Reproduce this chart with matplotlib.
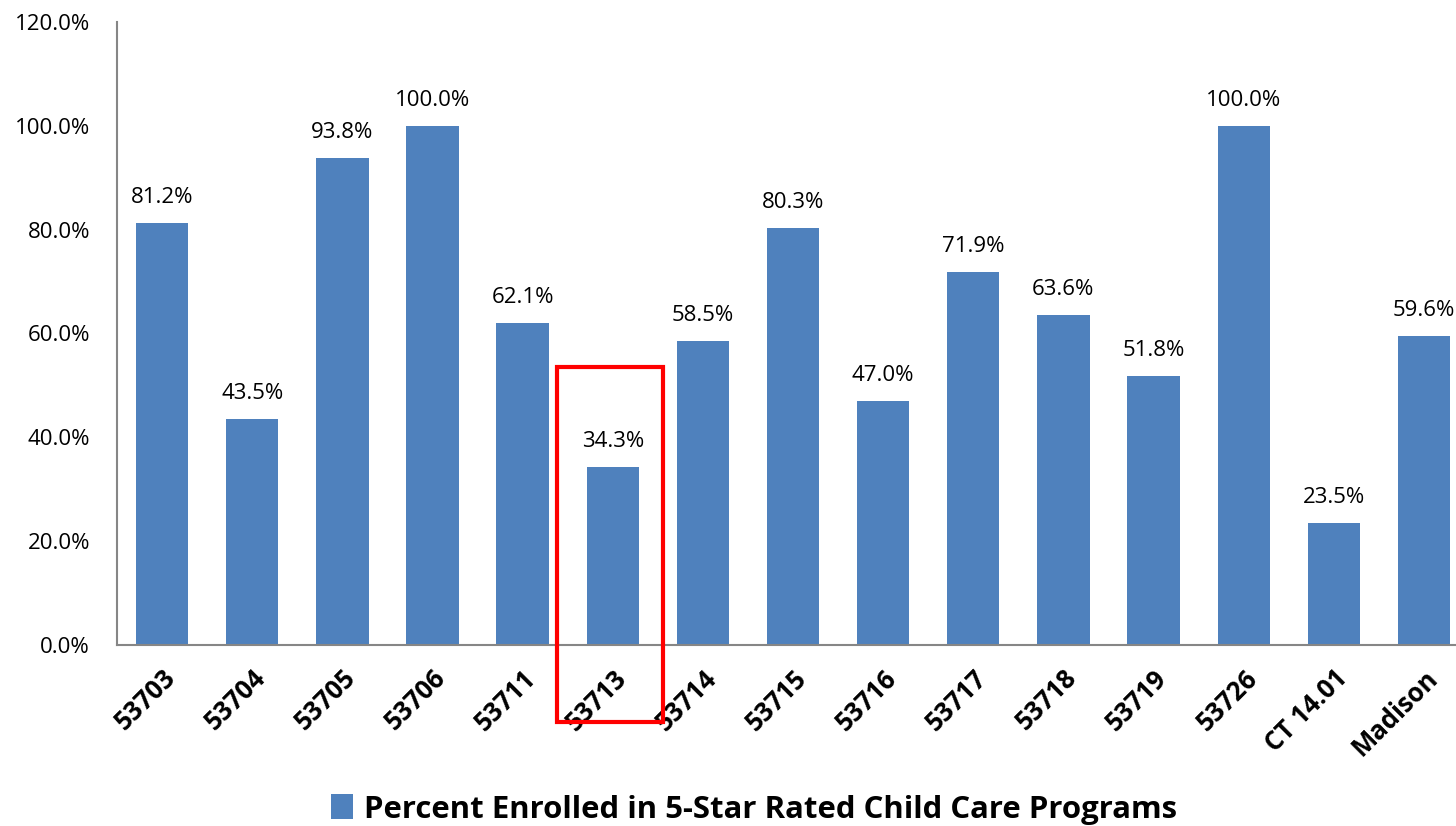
import matplotlib
matplotlib.use("Agg")
import matplotlib.pyplot as plt
from matplotlib.patches import Rectangle
from matplotlib.ticker import FuncFormatter, MultipleLocator

categories = ["53703", "53704", "53705", "53706", "53711", "53713", "53714", "53715",
              "53716", "53717", "53718", "53719", "53726", "CT 14.01", "Madison"]
values = [81.2, 43.5, 93.8, 100.0, 62.1, 34.3, 58.5, 80.3, 47.0, 71.9, 63.6, 51.8, 100.0, 23.5, 59.6]
series_name = "Percent Enrolled in 5-Star Rated Child Care Programs"
highlight = "53713"

plt.rcParams['font.family'] = ['Open Sans', 'DejaVu Sans']

fig = plt.figure(figsize=(14.56, 8.26), dpi=100)
ax = fig.add_axes([0.0804, 0.2191, 0.9285, 0.7543])

x = list(range(len(categories)))
bars = ax.bar(x, values, width=0.58, color='#4F81BD', label=series_name, zorder=2)

for xi, v in zip(x, values):
    ax.text(xi, v + 2.9, f"{v:.1f}%", ha='center', va='bottom', fontsize=16, color='black')

ax.set_xlim(-0.5, len(categories) - 0.5)
ax.set_ylim(0, 120)
ax.yaxis.set_major_locator(MultipleLocator(20))
ax.yaxis.set_major_formatter(FuncFormatter(lambda v, p: f"{v:.1f}%"))
ax.tick_params(axis='y', length=0, labelsize=16, pad=19.5)
ax.tick_params(axis='x', length=0, pad=14)
ax.set_xticks(x)
ax.set_xticklabels(categories, rotation=45, ha='right', rotation_mode='anchor',
                   fontsize=18.5, fontweight='bold')

for s in ['top', 'right']:
    ax.spines[s].set_visible(False)
for s in ['left', 'bottom']:
    ax.spines[s].set_color('#868686')
    ax.spines[s].set_linewidth(1.5)

# highlight box around 53713
hi = categories.index(highlight)
rect = Rectangle((hi - 0.618, -14.8), 1.176, 68.4, fill=False, edgecolor='#FF0000',
                 linewidth=3, clip_on=False, zorder=5)
ax.add_patch(rect)

leg = fig.legend(handles=[bars], labels=[series_name], loc='center',
                 bbox_to_anchor=(0.518, 0.02), frameon=False,
                 prop={'weight': 'bold', 'size': 22.4}, handlelength=0.7,
                 handleheight=0.85, handletextpad=0.35)

fig.savefig("out.png", dpi=100)
